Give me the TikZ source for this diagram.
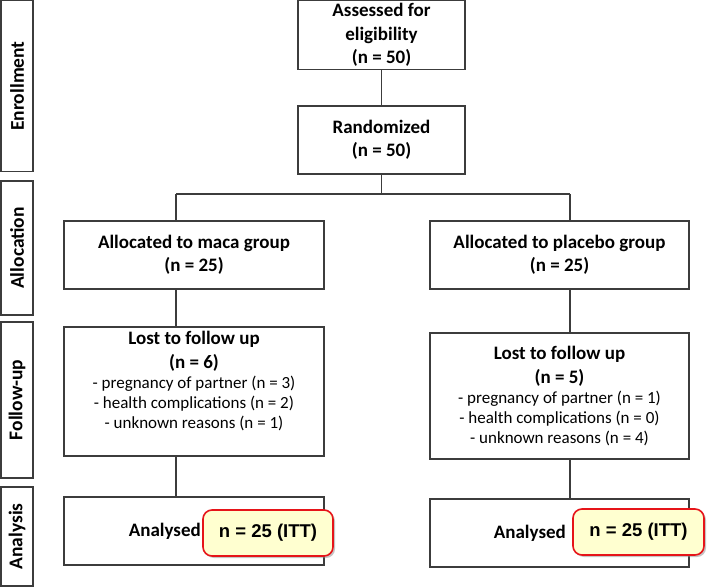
\documentclass[tikz,border=0pt]{standalone}
\usepackage{fontspec}
\setmainfont{Carlito}
\newfontfamily\arialfont{Liberation Sans}
\usetikzlibrary{shadows}
\definecolor{lineg}{RGB}{60,60,60}
\definecolor{ittfill}{RGB}{255,255,208}
\definecolor{ittred}{RGB}{230,20,25}
\tikzset{
  boxst/.style={draw=lineg, line width=1.1pt, rectangle, inner sep=0pt},
  sidebox/.style={draw=lineg, line width=1.1pt, rectangle, inner sep=0pt, minimum width=32pt},
  sidelabel/.style={rotate=90, font=\fontsize{19.5}{22}\selectfont\bfseries, inner sep=0pt},
  boldtxt/.style={font=\fontsize{19}{23.5}\selectfont\bfseries, align=center, inner sep=0pt},
  conn/.style={draw=lineg, line width=1.1pt},
  ittst/.style={draw=ittred, line width=1.6pt, fill=ittfill, rounded corners=9pt,
    drop shadow={shadow xshift=2pt, shadow yshift=-2pt, fill=black!45, opacity=0.5},
    minimum width=130pt, minimum height=46pt, inner sep=0pt,
    font=\arialfont\fontsize{18.5}{20}\selectfont\bfseries}
}
\begin{document}
\begin{tikzpicture}[x=1pt,y=-1pt]
\useasboundingbox (0,0) rectangle (709,588);
% side boxes
\node[sidebox, minimum height=171pt] (enr) at (17,86) {};
\node[sidelabel] (enrl) at (enr.center) {Enrollment};
\node[sidebox, minimum height=134pt] (alc) at (17,248) {};
\node[sidelabel] (alcl) at (alc.center) {Allocation};
\node[sidebox, minimum height=156pt] (fol) at (17,400) {};
\node[sidelabel] (foll) at (fol.center) {Follow-up};
\node[sidebox, minimum height=99pt] (ana) at (17,536.5) {};
\node[sidelabel] (anal) at (ana.center) {Analysis};
% enrollment
\node[boxst, minimum width=167pt, minimum height=69pt] (asses) at (381.5,35) {};
\node[boldtxt] (assest) at (asses.center) {Assessed for\\eligibility\\(n = 50)};
\node[boxst, minimum width=167pt, minimum height=68pt] (rand) at (381.5,140) {};
\node[boldtxt] (randt) at (rand.center) {Randomized\\(n = 50)};
% allocation
\node[boxst, minimum width=260pt, minimum height=68pt] (a1) at (194,255) {};
\node[boldtxt] (a1t) at (a1.center) {Allocated to maca group\\(n = 25)};
\node[boxst, minimum width=259pt, minimum height=68pt] (a2) at (559.5,255) {};
\node[boldtxt] (a2t) at (a2.center) {Allocated to placebo group\\(n = 25)};
% follow-up
\node[font=\fontsize{17}{20}\selectfont, align=center, inner sep=0pt, anchor=north] (l1t) at (194,331)
  {{\fontsize{19}{23.5}\selectfont\bfseries Lost to follow up}\\[4pt]
   {\fontsize{19}{23.5}\selectfont\bfseries (n = 6)}\\
   - pregnancy of partner (n = 3)\\
   - health complications (n = 2)\\
   - unknown reasons (n = 1)};
\node[boxst, minimum width=260pt, minimum height=129pt] (l1) at (194,391.5) {};
\node[font=\fontsize{17}{20}\selectfont, align=center, inner sep=0pt, anchor=north] (l2t) at (559.5,346)
  {{\fontsize{19}{23.5}\selectfont\bfseries Lost to follow up}\\[4pt]
   {\fontsize{19}{23.5}\selectfont\bfseries (n = 5)}\\
   - pregnancy of partner (n = 1)\\
   - health complications (n = 0)\\
   - unknown reasons (n = 4)};
\node[boxst, minimum width=259pt, minimum height=126pt] (l2) at (559.5,396) {};
% analysis
\node[boxst, minimum width=260pt, minimum height=68pt] (an1) at (194,531) {};
\node[boxst, minimum width=259pt, minimum height=68pt] (an2) at (559.5,533) {};
\node[boldtxt, anchor=east] (an1t) at (201,531) {Analysed};
\node[boldtxt, anchor=east] (an2t) at (566,533) {Analysed};
\node[ittst] (itt1) at (268,533) {n = 25 (ITT)};
\node[ittst, minimum width=131pt] (itt2) at (638.5,532) {n = 25 (ITT)};
% connectors
\coordinate (lx) at (176,0);
\coordinate (rx) at (570,0);
\coordinate (split) at (381.5,194);
\draw[conn] (asses.south) -- (rand.north);
\draw[conn] (rand.south) -- (split);
\draw[conn] (lx |- split) -- (rx |- split);
\draw[conn] (lx |- split) -- (lx |- a1.north);
\draw[conn] (rx |- split) -- (rx |- a2.north);
\draw[conn] (lx |- a1.south) -- (lx |- l1.north);
\draw[conn] (rx |- a2.south) -- (rx |- l2.north);
\draw[conn] (lx |- l1.south) -- (lx |- an1.north);
\draw[conn] (rx |- l2.south) -- (rx |- an2.north);
\end{tikzpicture}
\end{document}
